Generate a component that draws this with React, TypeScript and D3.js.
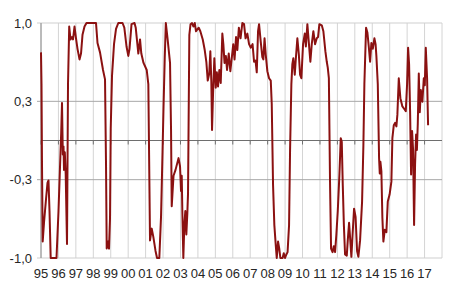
import React from "react";
import * as d3 from "d3";

const years: string[] = ["95","96","97","98","99","00","01","02","03","04","05","06","07","08","09","10","11","12","13","14","15","16","17"];
const yTicks: number[] = [-1, -1 / 3, 1 / 3, 1];
const yTickLabels: string[] = ["-1,0", "-0,3", "0,3", "1,0"];

// decimal-year offsets from January 1995
const t: number[] = [
0,0.029,0.057,0.098,0.172,0.287,0.373,0.43,0.488,0.556,0.889,1.004,1.119,1.159,1.205,1.251,1.291,1.32,1.365,1.417,
1.492,1.549,1.618,1.692,1.778,1.836,1.922,2.008,2.094,2.209,2.295,2.381,2.496,2.61,3.155,3.241,3.385,3.557,3.672,3.729,
3.769,3.844,3.901,3.959,3.999,4.073,4.188,4.303,4.435,4.676,4.779,4.905,5.008,5.077,5.192,5.364,5.433,5.582,5.68,5.754,
5.88,6.064,6.156,6.253,6.351,6.443,6.569,6.655,6.787,6.884,6.97,7.028,7.097,7.16,7.257,7.401,7.458,7.498,7.601,7.716,
7.888,7.974,8.032,8.072,8.106,8.164,8.221,8.278,8.336,8.393,8.433,8.508,8.577,8.663,8.738,8.818,8.892,9.047,9.139,9.277,
9.391,9.483,9.564,9.65,9.713,9.77,9.81,9.868,9.942,10.023,10.086,10.154,10.229,10.309,10.401,10.459,10.527,10.602,10.671,10.768,
10.86,10.94,11.027,11.101,11.187,11.262,11.348,11.445,11.549,11.646,11.732,11.836,11.933,12.036,12.134,12.22,12.306,12.375,12.449,12.507,
12.604,12.696,12.754,12.822,12.891,12.983,13.08,13.178,13.235,13.31,13.384,13.465,13.522,13.597,13.666,13.729,13.855,13.924,13.998,14.073,
14.142,14.228,14.285,14.36,14.417,14.474,14.555,14.618,14.704,14.79,14.859,14.934,15.031,15.129,15.192,15.278,15.358,15.45,15.53,15.622,
15.719,15.817,15.891,15.966,16.104,16.196,16.31,16.391,16.448,16.511,16.58,16.637,16.723,16.792,16.867,16.941,17.022,17.113,17.194,17.251,
17.309,17.372,17.44,17.538,17.595,17.67,17.739,17.802,17.871,17.957,18.043,18.129,18.204,18.301,18.416,18.491,18.548,18.645,18.72,18.8,
18.875,18.949,19.03,19.122,19.19,19.236,19.317,19.391,19.431,19.466,19.523,19.581,19.638,19.718,19.81,19.89,19.994,20.097,20.154,20.235,
20.309,20.384,20.441,20.521,20.613,20.728,20.826,20.923,20.997,21.055,21.112,21.17,21.227,21.284,21.342,21.399,21.456,21.514,21.56,21.611,
21.669,21.726,21.784,21.875,21.956,22.013,22.07,22.145,22.202
];

const values: number[] = [
0.75,0.48,-0.2,-0.86,-0.7,-0.5,-0.36,-0.34,-0.6,-1.0,-1.0,-0.6,-0.1,0.07,0.32,-0.12,-0.05,-0.25,-0.1,-0.29,
-0.88,0.48,0.97,0.86,0.88,0.86,0.97,0.87,0.78,0.69,0.74,0.9,0.97,1.0,1.0,0.83,0.75,0.6,0.52,-0.2,
-0.92,-0.86,-0.92,-0.66,0.1,0.55,0.82,0.95,1.0,1.0,0.96,0.8,0.72,0.78,0.99,1.0,0.96,0.74,0.86,0.74,
0.66,0.6,0.48,-0.85,-0.75,-0.82,-0.94,-1.0,-1.0,-0.65,-0.1,0.29,0.7,1.0,0.87,0.66,0.1,-0.56,-0.3,-0.25,
-0.15,-0.22,-0.43,-0.3,-0.6,-1.0,-0.72,-0.6,-0.8,-0.62,-0.45,0.9,0.99,1.0,0.97,1.0,0.93,0.96,0.93,0.86,
0.77,0.67,0.51,0.57,0.76,0.5,0.09,0.4,0.7,0.45,0.58,0.46,0.6,0.49,0.91,0.82,0.66,0.72,0.6,0.74,
0.59,0.7,0.82,0.69,0.88,0.77,0.96,0.87,1.0,0.99,0.87,0.91,0.82,0.79,0.82,0.67,0.68,0.58,0.93,0.99,
0.84,0.71,0.69,0.87,0.73,0.59,0.53,0.51,0.31,-0.38,-0.72,-0.89,-1.0,-0.86,-0.92,-1.0,-1.0,-0.96,-1.0,-0.97,
-0.95,-0.72,-0.09,0.48,0.65,0.7,0.56,0.7,0.87,0.73,0.56,0.53,0.82,0.91,0.8,0.99,0.84,0.67,0.82,0.93,
0.82,0.87,0.88,0.99,0.98,0.93,0.76,0.67,0.62,0.53,-0.38,-0.92,-0.95,-0.9,-0.95,-0.8,-0.6,-0.3,0.02,-0.01,
-0.38,-0.72,-0.97,-0.98,-0.85,-0.7,-0.85,-0.99,-0.8,-0.58,-0.65,-0.94,-0.99,-0.85,-0.52,-0.04,0.48,0.96,0.92,0.8,
0.67,0.83,0.78,0.87,0.82,0.72,0.48,-0.15,-0.28,-0.18,-0.26,-0.66,-0.86,-0.76,-0.78,-0.52,-0.46,-0.35,0.02,0.13,
0.15,0.12,0.22,0.53,0.36,0.29,0.27,0.25,0.48,0.79,0.65,0.25,-0.29,0.08,-0.08,-0.72,-0.2,0.05,-0.08,0.14,
0.57,0.24,0.43,0.33,0.53,0.47,0.79,0.53,0.13
];

const W = 450, H = 291;
const left = 41, right = 442, top = 23, bottom = 258;

export default function App() {
  const x = d3.scaleLinear().domain([1995, 2018]).range([left, right]);
  const y = d3.scaleLinear().domain([-1, 1]).range([bottom, top]);
  const pts: [number, number][] = t.map((d, i) => [1995 + d, values[i]]);
  const line = d3.line<[number, number]>().x((d) => x(d[0])).y((d) => y(d[1]));
  const yearPos = years.map((_, i) => 1995 + i);
  const font = "'Liberation Sans', Arial, sans-serif";
  return (
    <svg width={W} height={H} style={{ position: "absolute", left: 0, top: 0 }}>
      <rect x={0} y={0} width={W} height={H} fill="#fff" />
      {yearPos.concat([2018]).map((yr) => (
        <line key={"v" + yr} x1={x(yr)} x2={x(yr)} y1={top} y2={bottom} stroke="#d4d4d4" strokeWidth={1} />
      ))}
      {yTicks.map((v, i) => (
        <line key={"h" + i} x1={left - 4} x2={right} y1={y(v)} y2={y(v)} stroke={Math.abs(v) === 1 ? "#cfcfcf" : "#a8a8a8"} strokeWidth={1} />
      ))}
      <line x1={left} x2={left} y1={top} y2={bottom} stroke="#8c8c8c" strokeWidth={1} />
      <line x1={left} x2={right} y1={y(0)} y2={y(0)} stroke="#6e6e6e" strokeWidth={1} />
      {yearPos.map((yr) => (
        <line key={"t" + yr} x1={x(yr)} x2={x(yr)} y1={y(0)} y2={y(0) + 4} stroke="#6e6e6e" strokeWidth={1} />
      ))}
      <path d={line(pts) || ""} fill="none" stroke="#8b1111" strokeWidth={2} strokeLinejoin="round" />
      {yTicks.map((v, i) => (
        <text key={"yl" + i} x={32} y={y(v)} dy="0.36em" textAnchor="end" fontFamily={font} fontSize={13} fill="#262626">
          {yTickLabels[i]}
        </text>
      ))}
      {years.map((lab, i) => (
        <text key={"xl" + i} x={x(yearPos[i])} y={278} textAnchor="middle" fontFamily={font} fontSize={13} fill="#262626">
          {lab}
        </text>
      ))}
    </svg>
  );
}
